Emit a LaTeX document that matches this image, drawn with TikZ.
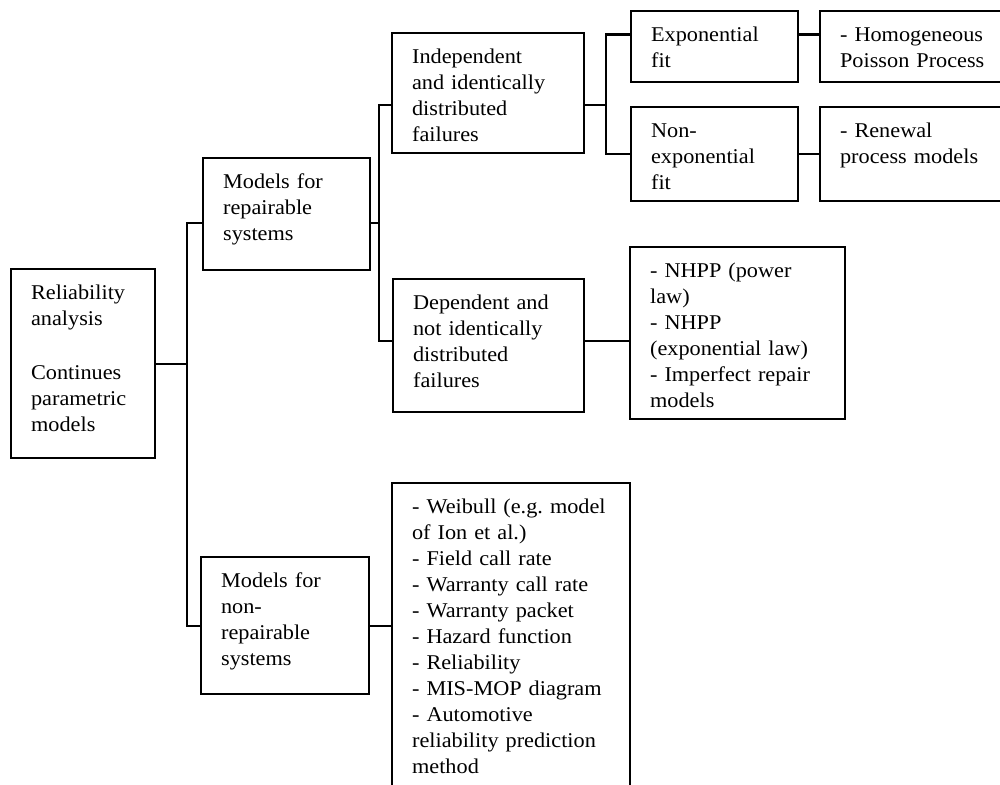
\documentclass[tikz,border=0pt]{standalone}
\usepackage{fontspec}
\setmainfont[FakeStretch=1.06]{Liberation Serif}
\begin{document}
\frenchspacing
\begin{tikzpicture}[x=1pt, y=-1pt,
  box/.style={draw, line width=2.2pt, anchor=north west, inner xsep=20pt,
    inner ysep=12pt, align=left, text height=18pt,
    font=\fontsize{21}{26}\selectfont},
  link/.style={line width=2.2pt}]
\useasboundingbox (0,0) rectangle (1000,784);
\clip (0,0) rectangle (1000,784);

% first level
\node[box, text width=104pt, text depth=147pt] (root) at (10,268)
  {Reliability\\analysis\\[28pt]Continues\\parametric\\models};

% second level
\node[box, text width=127pt, text depth=70pt] (rep) at (202,157)
  {Models for\\repairable\\systems};
\node[box, text width=128pt, text depth=95pt] (nonrep) at (200,556)
  {Models for\\non-\\repairable\\systems};

% third level
\node[box, text width=152pt, text depth=78pt] (indep) at (391,32)
  {Independent\\and identically\\distributed\\failures};
\node[box, text width=151pt, text depth=91pt] (dep) at (392,278)
  {Dependent and\\not identically\\distributed\\failures};
\node[box, text width=198pt, text depth=276pt] (weib) at (391,482)
  {- Weibull (e.g. model\\of Ion et al.)\\- Field call rate\\- Warranty call rate\\- Warranty packet\\- Hazard function\\- Reliability\\- MIS-MOP diagram\\- Automotive\\reliability prediction\\method};

% fourth level
\node[box, text width=127pt, text depth=29pt] (expo) at (630,10)
  {Exponential\\fit};
\node[box, text width=127pt, text depth=52pt] (nonexp) at (630,106)
  {Non-\\exponential\\fit};
\node[box, text width=175pt, text depth=130pt] (nhpp) at (629,246)
  {- NHPP (power\\law)\\- NHPP\\(exponential law)\\- Imperfect repair\\models};

% fifth level
\node[box, text width=151pt, text depth=29pt] (hpp) at (819,10)
  {- Homogeneous\\Poisson Process};
\node[box, text width=151pt, text depth=52pt] (renew) at (819,106)
  {- Renewal\\process models};

% vertical buses
\coordinate (bus1) at (187,0);
\coordinate (bus2) at (379,0);
\coordinate (bus3) at (606,0);

% attachment points
\coordinate (repIn)    at ([yshift=-9pt]rep.west);
\coordinate (repOut)   at ([yshift=-9pt]rep.east);
\coordinate (indepIn)  at ([yshift=-12pt]indep.west);
\coordinate (indepOut) at ([yshift=-12pt]indep.east);
\coordinate (depIn)    at ([yshift=5pt]dep.west);
\coordinate (depOut)   at ([yshift=5pt]dep.east);
\coordinate (expoIn)   at ([yshift=12pt]expo.west);
\coordinate (expoOut)  at ([yshift=12pt]expo.east);

% connectors
\draw[link] (root.east) -- (root.east -| bus1);
\draw[link] (repIn) -| (bus1 |- nonrep.west) -- (nonrep.west);

\draw[link] (repOut) -- (repOut -| bus2);
\draw[link] (indepIn) -| (bus2 |- depIn) -- (depIn);

\draw[link] (indepOut) -- (indepOut -| bus3);
\draw[link] (expoIn) -| (bus3 |- nonexp.west) -- (nonexp.west);

\draw[link] (expoOut) -- (expoOut -| hpp.west);
\draw[link] (nonexp.east) -- (nonexp.east -| renew.west);
\draw[link] (depOut) -- (depOut -| nhpp.west);
\draw[link] (nonrep.east) -- (nonrep.east -| weib.west);
\end{tikzpicture}
\end{document}
